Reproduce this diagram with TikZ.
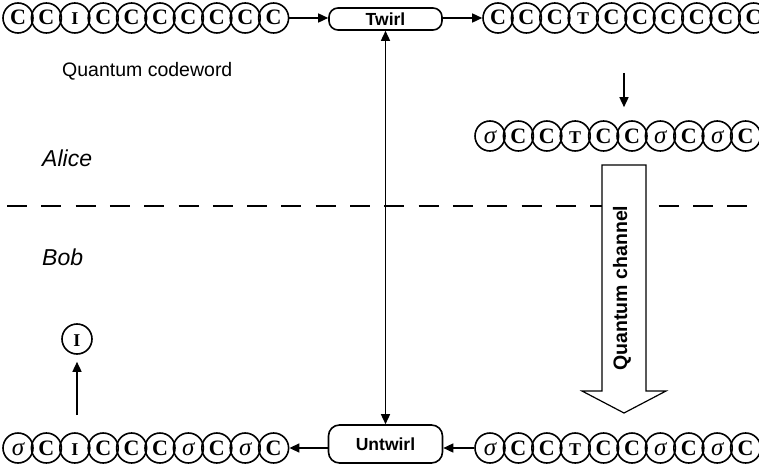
\documentclass[tikz,border=0pt]{standalone}
\usepackage{fontspec}
\setmainfont{Liberation Serif}
\setsansfont{Liberation Sans}
\usetikzlibrary{arrows.meta}

\tikzset{
  qbit/.style={circle, draw, line width=1.6pt, minimum size=30pt, inner sep=0pt,
               text height=14pt, text depth=0pt},
  qc/.style={qbit, font=\fontsize{22}{22}\selectfont\bfseries},
  qt/.style={qbit, font=\fontsize{18}{18}\selectfont\bfseries},
  qs/.style={qbit, font=\fontsize{25}{25}\selectfont\itshape},
  opbox/.style={draw, line width=1.6pt, inner sep=0pt,
                font=\sffamily\bfseries\fontsize{17.5}{17.5}\selectfont},
  arr/.style={line width=1.5pt, -{Triangle[length=10pt,width=9pt]}},
  darr/.style={line width=1.5pt, {Triangle[length=10pt,width=9pt]}-{Triangle[length=10pt,width=9pt]}},
  lbl/.style={anchor=base west, inner sep=0pt, font=\sffamily\fontsize{19.5}{19.5}\selectfont},
  party/.style={anchor=base west, inner sep=0pt, font=\sffamily\itshape\fontsize{23}{23}\selectfont},
}

\begin{document}
\begin{tikzpicture}[x=1pt, y=-1pt]
\useasboundingbox (0,0) rectangle (759,465);

% Alice / Bob boundary
\draw[line width=1.3pt, dash pattern=on 20pt off 14.3pt] (7,206) -- (759,206);

% codeword rows
\foreach \st/\tx [count=\i] in {qc/C,qc/C,qt/I,qc/C,qc/C,qc/C,qc/C,qc/C,qc/C,qc/C}
  \node[\st] (a\i) at ({18+28.4*(\i-1)},18) {\tx};
\foreach \st/\tx [count=\i] in {qc/C,qc/C,qc/C,qt/T,qc/C,qc/C,qc/C,qc/C,qc/C,qc/C}
  \node[\st] (b\i) at ({498+28.4*(\i-1)},18) {\tx};
\foreach \st/\tx [count=\i] in {qs/σ,qc/C,qc/C,qt/T,qc/C,qc/C,qs/σ,qc/C,qs/σ,qc/C}
  \node[\st] (c\i) at ({490+28.4*(\i-1)},136) {\tx};
\foreach \st/\tx [count=\i] in {qs/σ,qc/C,qc/C,qt/T,qc/C,qc/C,qs/σ,qc/C,qs/σ,qc/C}
  \node[\st] (d\i) at ({490+28.4*(\i-1)},448) {\tx};
\foreach \st/\tx [count=\i] in {qs/σ,qc/C,qt/I,qc/C,qc/C,qc/C,qs/σ,qc/C,qs/σ,qc/C}
  \node[\st] (e\i) at ({18+28.4*(\i-1)},448) {\tx};
\node[qt] (iout) at (77,339) {I};

% twirl operations
\node[opbox, rounded corners=9pt, minimum width=113pt, minimum height=22pt] (twirl) at (385.5,19) {Twirl};
\node[opbox, rounded corners=11pt, minimum width=114pt, minimum height=38pt] (untwirl) at (385.5,444) {Untwirl};

% labels
\node[lbl] (cw) at (62,76.5) {Quantum codeword};
\node[party] (alice) at (42,166) {Alice};
\node[party] (bob) at (42,265) {Bob};

% connectors
\draw[arr] (a10.east) -- (twirl.west |- a10.east);
\draw[arr] (twirl.east |- b1.west) -- (b1.west);
\draw[darr] (twirl.south) -- (untwirl.north);
\draw[arr] (d1.west) -- (untwirl.east |- d1.west);
\draw[arr] (untwirl.west |- e10.east) -- (e10.east);

\coordinate (noise) at (624,73);
\draw[arr, shorten >=13pt] (noise) -- (noise |- c1.north);
\coordinate (meas) at (77,415);
\draw[arr, shorten >=7pt] (meas) -- (iout.south);

% quantum channel
\draw[fill=white, line width=1.2pt] (602,165) -- (646,165) -- (646,391) -- (666,391)
  -- (624,413) -- (582,391) -- (602,391) -- cycle;
\node[rotate=90, font=\sffamily\bfseries\fontsize{19.5}{19.5}\selectfont] (qch) at (622,288) {Quantum channel};
\end{tikzpicture}
\end{document}
